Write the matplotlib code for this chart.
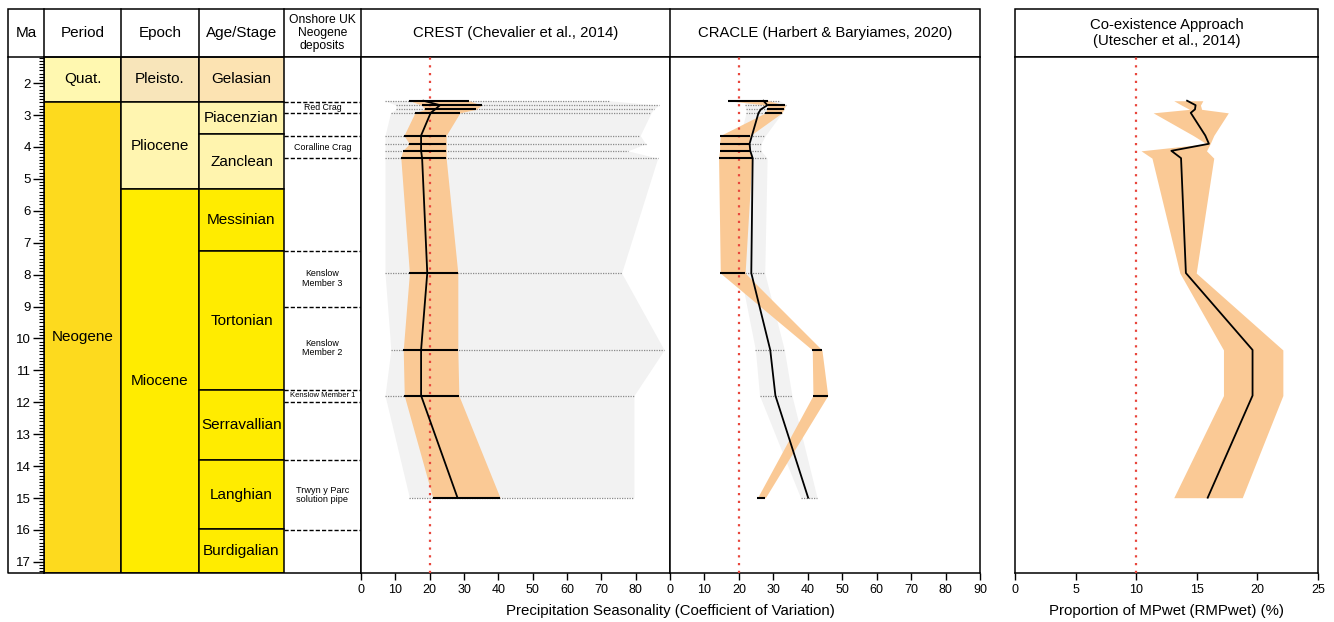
import matplotlib
matplotlib.use('Agg')
import matplotlib.pyplot as plt
import numpy as np
from matplotlib.patches import Rectangle
from matplotlib.ticker import MultipleLocator

plt.rcParams['font.family'] = ['Liberation Sans', 'DejaVu Sans']

W, H = 1334, 622
TOP, BOTTOM = 1.18, 17.35

# sample ages (Ma), shared by the three reconstructions
ages = [2.55, 2.69, 2.82, 2.93, 3.64, 3.90, 4.12, 4.35, 7.95, 10.36, 11.79, 14.99]

# CREST
crest_mean = [18.2, 23.0, 21.6, 20.3, 17.5, 17.5, 17.5, 17.8, 19.3, 17.5, 17.5, 28.1]
crest_lo = [14.1, 17.7, 18.5, 15.7, 12.5, 14.1, 12.1, 11.6, 14.1, 12.3, 12.6, 20.9]
crest_hi = [31.5, 35.1, 33.5, 28.8, 24.8, 24.8, 24.8, 24.8, 28.2, 28.2, 28.5, 40.5]
crest_glo = [7.0, 10.2, 10.2, 8.6, 7.0, 7.0, 7.0, 7.0, 7.0, 8.7, 7.0, 14.1]
crest_ghi = [72.3, 86.8, 85.2, 84.5, 81.3, 82.9, 77.7, 86.4, 75.9, 88.3, 79.5, 79.5]

# CRACLE
cracle_mean = [27.1, 28.3, 26.4, 25.7, 23.8, 23.1, 23.3, 24.0, 23.6, 29.1, 30.6, 40.1]
cracle_lo = [16.8, 28.4, 28.1, 27.7, 14.6, 14.4, 14.4, 14.1, 14.6, 41.3, 41.5, 25.4]
cracle_hi = [28.5, 33.5, 33.0, 32.5, 23.3, 22.8, 23.3, 23.8, 21.8, 44.1, 45.8, 27.7]
cracle_glo = [21.8, 21.8, 22.1, 22.1, 20.4, 20.9, 20.9, 20.9, 20.4, 24.8, 26.0, 37.9]
cracle_ghi = [32.0, 33.8, 33.0, 32.5, 27.7, 26.4, 26.4, 28.2, 27.5, 33.2, 35.4, 42.7]

# Co-existence Approach
coa_mean = [14.2, 14.9, 14.85, 14.5, 15.7, 16.0, 12.9, 13.7, 14.1, 19.6, 19.6, 15.9]
coa_lo = [13.1, 13.75, 14.4, 11.4, 14.7, 15.8, 10.4, 11.3, 13.6, 17.2, 17.2, 13.1]
coa_hi = [15.5, 15.3, 15.4, 17.6, 16.4, 16.1, 15.8, 16.4, 14.95, 22.1, 22.1, 18.75]

# stratigraphy
periods = ['Quat.', 'Neogene']
period_edges = [TOP, 2.58, BOTTOM]
epochs = ['Pleisto.', 'Pliocene', 'Miocene']
epoch_edges = [TOP, 2.58, 5.33, BOTTOM]
stages = ['Gelasian', 'Piacenzian', 'Zanclean', 'Messinian', 'Tortonian',
          'Serravallian', 'Langhian', 'Burdigalian']
stage_edges = [TOP, 2.58, 3.6, 5.33, 7.25, 11.63, 13.82, 15.97, BOTTOM]
deposits = ['Red Crag', 'Coralline Crag', 'Kenslow\nMember 3', 'Kenslow\nMember 2',
            'Kenslow Member 1', 'Trwyn y Parc\nsolution pipe']
deposit_tops = [2.58, 3.65, 7.25, 9.0, 11.6, 13.82]
deposit_bases = [2.95, 4.36, 9.0, 11.6, 12.0, 16.0]

period_colors = ['#FFF8B0', '#FDDA1E']
epoch_colors = ['#F8E5BA', '#FFF5B0', '#FFEC00']
stage_colors = ['#FCE3B2', '#FFF4AE', '#FFF4AE', '#FFEC00', '#FFEC00',
                '#FFEC00', '#FFEC00', '#FFEC00']
deposit_sizes = [6.3, 6.4, 6.4, 6.4, 5.5, 6.6]

ORANGE = '#FAC995'
GREY = '#F2F2F2'
RED = '#E8463C'
LW = 1.1

fig = plt.figure(figsize=(W / 100, H / 100), dpi=100)


def px_axes(x0, y0, x1, y1):
    return fig.add_axes([x0 / W, 1 - y1 / H, (x1 - x0) / W, (y1 - y0) / H])


# background layer for header boxes and labels (pixel coords)
ax_bg = px_axes(0, 0, W, H)
ax_bg.set_xlim(0, W)
ax_bg.set_ylim(H, 0)
ax_bg.axis('off')
ax_bg.add_patch(Rectangle((8, 9), 972, 48, fill=False, lw=LW))
ax_bg.add_patch(Rectangle((1015, 9), 303, 48, fill=False, lw=LW))
for x in [44, 121, 199, 284, 361, 670]:
    ax_bg.plot([x, x], [9, 57], color='black', lw=LW)
ax_bg.plot([8, 8, 44], [57, 573, 573], color='black', lw=LW)

headers = ['Ma', 'Period', 'Epoch', 'Age/Stage']
for name, xc in zip(headers, [26, 82.5, 160, 241.5]):
    ax_bg.text(xc, 33, name, ha='center', va='center', fontsize=11)
ax_bg.text(322.5, 33, 'Onshore UK\nNeogene\ndeposits', ha='center', va='center',
           fontsize=8.7, linespacing=1.15)
ax_bg.text(515.5, 33, 'CREST (Chevalier et al., 2014)', ha='center', va='center',
           fontsize=10.7)
ax_bg.text(825, 33, 'CRACLE (Harbert & Baryiames, 2020)', ha='center', va='center',
           fontsize=10.7)
ax_bg.text(1166.5, 33, 'Co-existence Approach\n(Utescher et al., 2014)', ha='center',
           va='center', fontsize=10.7, linespacing=1.1)
ax_bg.text(670, 611, 'Precipitation Seasonality (Coefficient of Variation)',
           ha='center', va='center', fontsize=10.8)
ax_bg.text(1166.5, 611, 'Proportion of MPwet (RMPwet) (%)', ha='center', va='center',
           fontsize=10.8)

# stratigraphic table
ax_t = px_axes(44, 57, 361, 573)
ax_t.set_xlim(44, 361)
ax_t.set_ylim(BOTTOM, TOP)


def draw_column(x0, x1, names, edges, colors, fs=11):
    for i, name in enumerate(names):
        ax_t.add_patch(Rectangle((x0, edges[i]), x1 - x0, edges[i + 1] - edges[i],
                                 facecolor=colors[i], edgecolor='black', lw=LW))
        ax_t.text((x0 + x1) / 2, (edges[i] + edges[i + 1]) / 2, name,
                  ha='center', va='center', fontsize=fs)


draw_column(44, 121, periods, period_edges, period_colors)
draw_column(121, 199, epochs, epoch_edges, epoch_colors)
draw_column(199, 284, stages, stage_edges, stage_colors)

dash_levels = sorted(set(deposit_tops + deposit_bases))
ax_t.hlines(dash_levels, 284, 361, colors='black', linestyles=(0, (3, 1.5)), lw=1)
for name, t, b, fs in zip(deposits, deposit_tops, deposit_bases, deposit_sizes):
    ax_t.text(322.5, (t + b) / 2, name, ha='center', va='center', fontsize=fs,
              linespacing=1.1)

ax_t.set_xticks([])
ax_t.yaxis.set_minor_locator(MultipleLocator(0.1))
ax_t.set_yticks(np.arange(2, 18))
ax_t.tick_params(axis='y', which='major', direction='out', length=8, width=1,
                 labelsize=9.5, pad=1.5)
ax_t.tick_params(axis='y', which='minor', direction='out', length=3.5, width=0.8)
for s in ax_t.spines.values():
    s.set_linewidth(LW)


def draw_panel(ax, mean, lo, hi, glo=None, ghi=None, ref=20):
    if glo is not None:
        ax.fill_betweenx(ages, glo, ghi, color=GREY, lw=0, zorder=1)
        ax.hlines(ages, glo, ghi, colors='#8a8a8a', linestyles=(0, (1, 1)),
                  lw=0.9, zorder=2)
    ax.fill_betweenx(ages, lo, hi, color=ORANGE, lw=0, zorder=3)
    ax.axvline(ref, color=RED, ls=(0, (1, 2.5)), lw=1.6, zorder=4)
    if glo is not None:
        ax.hlines(ages, lo, hi, colors='black', lw=1.5, zorder=5)
    ax.plot(mean, ages, color='black', lw=1.3, zorder=6)
    ax.set_ylim(BOTTOM, TOP)
    ax.set_yticks([])
    ax.tick_params(axis='x', direction='out', length=5, width=1, labelsize=9, pad=3)
    for s in ax.spines.values():
        s.set_linewidth(LW)


ax_crest = px_axes(361, 57, 670, 573)
draw_panel(ax_crest, crest_mean, crest_lo, crest_hi, crest_glo, crest_ghi)
ax_crest.set_xlim(0, 90)
ax_crest.set_xticks(np.arange(0, 81, 10))

ax_cracle = px_axes(670, 57, 980, 573)
draw_panel(ax_cracle, cracle_mean, cracle_lo, cracle_hi, cracle_glo, cracle_ghi)
ax_cracle.set_xlim(0, 90)
ax_cracle.set_xticks(np.arange(0, 91, 10))

ax_coa = px_axes(1015, 57, 1318, 573)
draw_panel(ax_coa, coa_mean, coa_lo, coa_hi, ref=10)
ax_coa.set_xlim(0, 25)
ax_coa.set_xticks(np.arange(0, 26, 5))

fig.savefig('out.png', dpi=100)
